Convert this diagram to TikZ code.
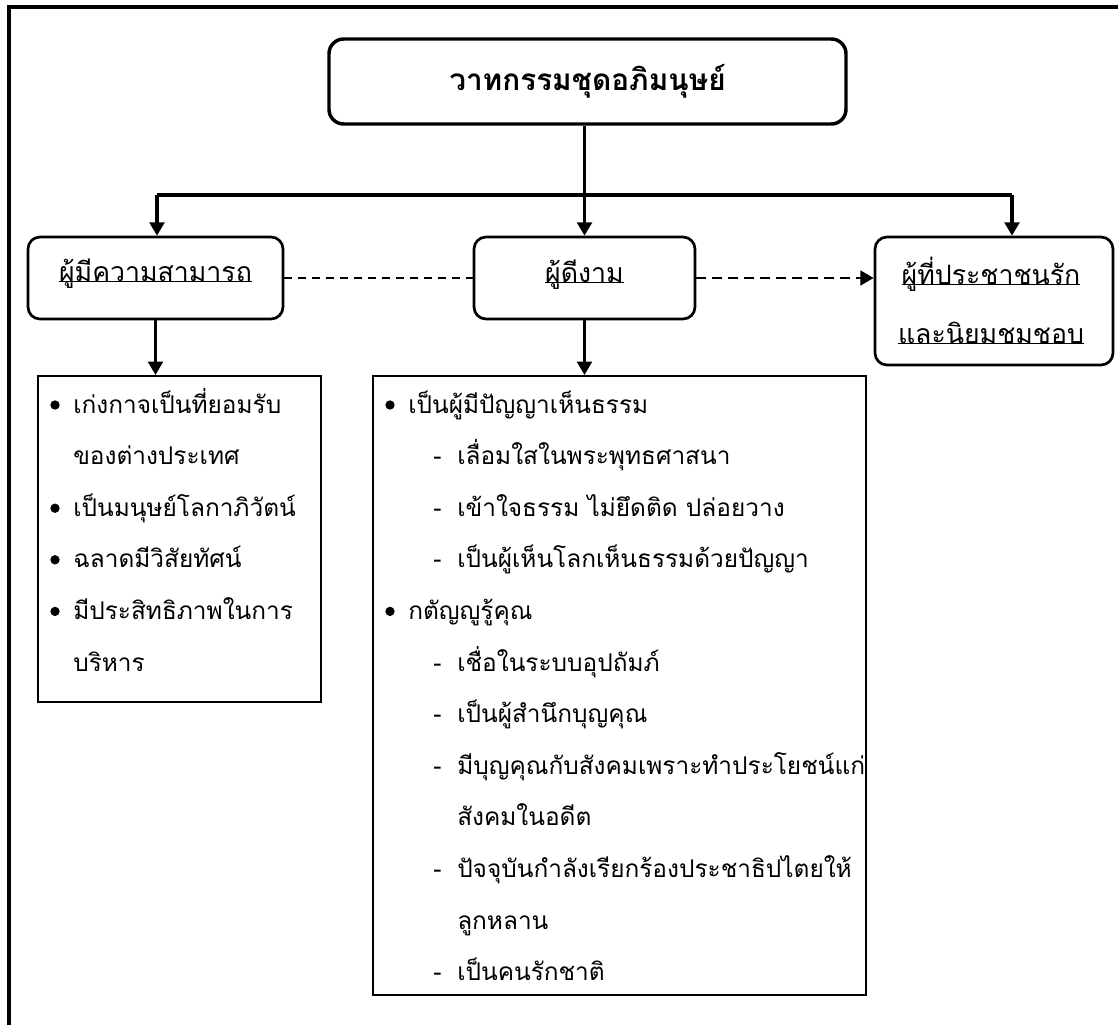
\documentclass[tikz,border=0pt]{standalone}
\usepackage{fontspec}
\setmainfont[Script=Thai]{Loma}
\usetikzlibrary{arrows.meta}
\tikzset{>={Triangle[length=10pt,width=11pt]}}
\newsavebox{\ulbox}
\newcommand{\uln}[1]{\sbox{\ulbox}{#1}\rlap{\rule[-1pt]{\wd\ulbox}{0.8pt}}\usebox{\ulbox}}
\newcommand{\itemfont}{\fontsize{18.3}{22}\selectfont}
\newcommand{\boxfont}{\fontsize{20}{24}\selectfont}
\newcommand{\titlefont}{\fontsize{22.3}{26}\selectfont\bfseries}
% list lines: name, x, row, text
\newcommand{\bline}[4]{
    \node[bulletdot] (#1m) at (#2,{405+51.6*#3}) {};
    \node[listtext] (#1) at ({#2+18},{413+51.6*#3}) {#4};
}
\newcommand{\dline}[4]{
    \node[listtext] (#1m) at (#2,{413+51.6*#3}) {-};
    \node[listtext] (#1) at ({#2+24},{413+51.6*#3}) {#4};
}
\newcommand{\contline}[4]{
    \node[listtext] (#1) at (#2,{413+51.6*#3}) {#4};
}

\begin{document}
\begin{tikzpicture}[x=0.75pt,y=-0.75pt,
    titlebox/.style={draw,line width=2.6pt,rounded corners=11pt,font=\titlefont},
    headbox/.style={draw,line width=2pt,rounded corners=9pt},
    listbox/.style={draw,line width=1.5pt},
    boxtext/.style={anchor=base,inner sep=0pt,font=\boxfont},
    listtext/.style={anchor=base west,inner sep=0pt,font=\itemfont},
    bulletdot/.style={circle,fill,inner sep=0pt,minimum size=7pt},
    bus/.style={line width=2.6pt},
    down/.style={line width=2.2pt,->}]
    \useasboundingbox (0,0) rectangle (1118,1025);
    % frame
    \draw[line width=2.6pt] (9,1040) -- (9,7) -- (1130,7);

    \node[titlebox,minimum width=387.75pt,minimum height=63.75pt] (title)
        at (587.5,81.5) {วาทกรรมชุดอภิมนุษย์};

    \node[headbox,minimum width=191.25pt,minimum height=61.5pt] (ability) at (155.5,278) {};
    \node[headbox,minimum width=165.75pt,minimum height=61.5pt] (goodman) at (584.5,278) {};
    \node[headbox,minimum width=178.5pt,minimum height=96pt] (beloved) at (994,301) {};
    \node[boxtext] (ability-t) at (155.5,281) {\uln{ผู้มีความสามารถ}};
    \node[boxtext] (goodman-t) at (584.5,282) {\uln{ผู้ดีงาม}};
    \node[boxtext] (beloved-t1) at (991,284) {\uln{ผู้ที่ประชาชนรัก}};
    \node[boxtext] (beloved-t2) at (991,343) {\uln{และนิยมชมชอบ}};

    % tree
    \coordinate (busL) at (157,195);
    \coordinate (busR) at (1012,195);
    \draw[bus] (busL) -- (busR);
    \draw[bus,->] (goodman.north |- title.south) -- (goodman.north);
    \draw[bus,->] (busL) -- (busL |- ability.north);
    \draw[bus,->] (busR) -- (busR |- beloved.north);
    \draw[line width=1.1pt,dash pattern=on 6pt off 4.5pt] (ability) -- (goodman);
    \draw[line width=1.9pt,dash pattern=on 7pt off 5pt,->] (goodman) -- (beloved.west |- goodman);

    \node[listbox,minimum width=212.25pt,minimum height=244.5pt] (skills) at (179.5,539) {};
    \node[listbox,minimum width=369.75pt,minimum height=464.25pt] (virtues) at (619.5,685.5) {};
    \draw[down] (ability.south) -- (ability.south |- skills.north);
    \draw[down] (goodman.south) -- (goodman.south |- virtues.north);

    \bline{s1}{55}{0}{เก่งกาจเป็นที่ยอมรับ}
    \contline{s1b}{73}{1}{ของต่างประเทศ}
    \bline{s2}{55}{2}{เป็นมนุษย์โลกาภิวัตน์}
    \bline{s3}{55}{3}{ฉลาดมีวิสัยทัศน์}
    \bline{s4}{55}{4}{มีประสิทธิภาพในการ}
    \contline{s4b}{73}{5}{บริหาร}

    \bline{v1}{390}{0}{เป็นผู้มีปัญญาเห็นธรรม}
    \dline{v11}{433}{1}{เลื่อมใสในพระพุทธศาสนา}
    \dline{v12}{433}{2}{เข้าใจธรรม ไม่ยึดติด ปล่อยวาง}
    \dline{v13}{433}{3}{เป็นผู้เห็นโลกเห็นธรรมด้วยปัญญา}
    \bline{v2}{390}{4}{กตัญญูรู้คุณ}
    \dline{v21}{433}{5}{เชื่อในระบบอุปถัมภ์}
    \dline{v22}{433}{6}{เป็นผู้สำนึกบุญคุณ}
    \dline{v23}{433}{7}{มีบุญคุณกับสังคมเพราะทำประโยชน์แก่}
    \contline{v23b}{457}{8}{สังคมในอดีต}
    \dline{v24}{433}{9}{ปัจจุบันกำลังเรียกร้องประชาธิปไตยให้}
    \contline{v24b}{457}{10}{ลูกหลาน}
    \dline{v25}{433}{11}{เป็นคนรักชาติ}
\end{tikzpicture}
\end{document}
